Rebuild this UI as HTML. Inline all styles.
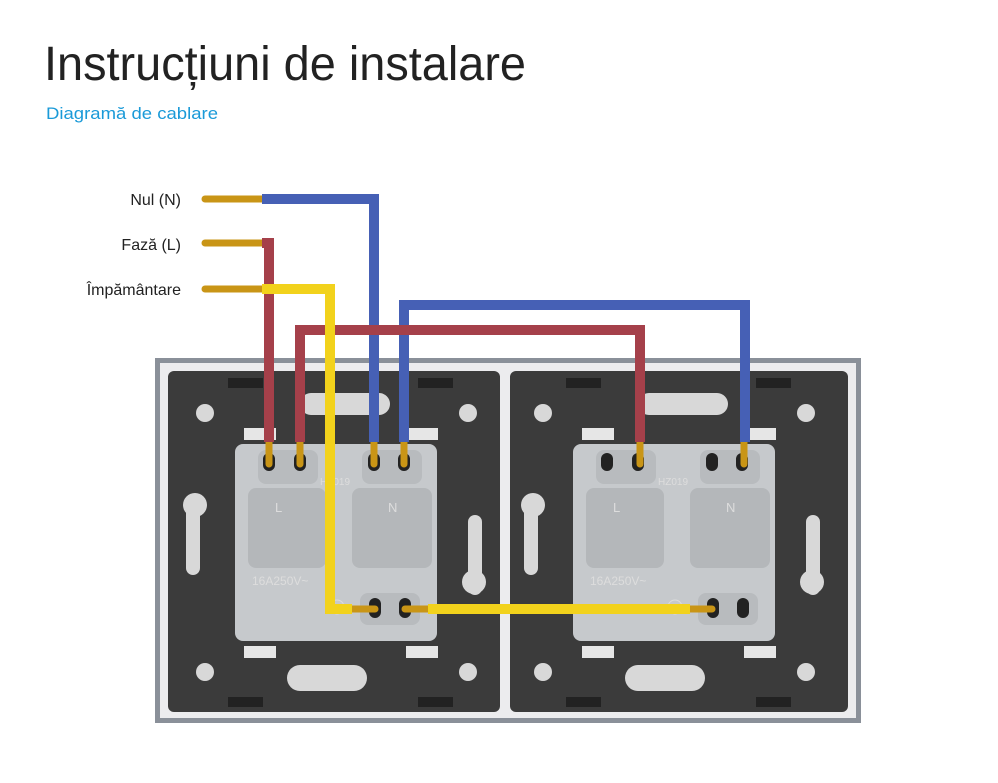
<!DOCTYPE html>
<html><head><meta charset="utf-8"><style>
body{margin:0;background:#fff;width:998px;height:778px;overflow:hidden;font-family:"Liberation Sans",sans-serif}
</style></head><body>
<svg width="998" height="778" viewBox="0 0 998 778" xmlns="http://www.w3.org/2000/svg" font-family="Liberation Sans, sans-serif">
<text x="44" y="80" font-size="48" fill="#222" textLength="482" lengthAdjust="spacingAndGlyphs">Instrucțiuni de instalare</text>
<text x="46" y="119" font-size="17" fill="#1a9ad8" textLength="172" lengthAdjust="spacingAndGlyphs">Diagramă de cablare</text>
<text x="181" y="205" font-size="16" fill="#222" text-anchor="end">Nul (N)</text>
<text x="181" y="250" font-size="16" fill="#222" text-anchor="end">Fază (L)</text>
<text x="181" y="295" font-size="16" fill="#222" text-anchor="end">Împământare</text>
<!-- frame -->
<rect x="155" y="358" width="706" height="365" fill="#8a9099"/>
<rect x="160" y="363" width="696" height="355" fill="#ececee"/>
<rect x="168" y="371" width="332" height="341" rx="6" fill="#3b3b3b"/>
<rect x="510" y="371" width="338" height="341" rx="6" fill="#3b3b3b"/>
<defs>
<g id="plate">
<circle cx="205" cy="413" r="9" fill="#d8d8d8"/>
<circle cx="468" cy="413" r="9" fill="#d8d8d8"/>
<circle cx="205" cy="672" r="9" fill="#d8d8d8"/>
<circle cx="468" cy="672" r="9" fill="#d8d8d8"/>
<rect x="300" y="393" width="90" height="22" rx="11" fill="#d8d8d8"/>
<rect x="287" y="665" width="80" height="26" rx="13" fill="#d8d8d8"/>
<rect x="186" y="495" width="14" height="80" rx="7" fill="#d8d8d8"/>
<circle cx="195" cy="505" r="12" fill="#d8d8d8"/>
<rect x="468" y="515" width="14" height="80" rx="7" fill="#d8d8d8"/>
<circle cx="474" cy="582" r="12" fill="#d8d8d8"/>
<rect x="228" y="378" width="35" height="10" fill="#222"/>
<rect x="418" y="378" width="35" height="10" fill="#222"/>
<rect x="228" y="697" width="35" height="10" fill="#222"/>
<rect x="418" y="697" width="35" height="10" fill="#222"/>
<rect x="244" y="428" width="32" height="12" fill="#e6e6e6"/>
<rect x="406" y="428" width="32" height="12" fill="#e6e6e6"/>
<rect x="244" y="646" width="32" height="12" fill="#e6e6e6"/>
<rect x="406" y="646" width="32" height="12" fill="#e6e6e6"/>
<rect x="235" y="444" width="202" height="197" rx="8" fill="#c6c9cc"/>
<rect x="258" y="450" width="60" height="34" rx="8" fill="#b8bbbe"/>
<rect x="362" y="450" width="60" height="34" rx="8" fill="#b8bbbe"/>
<rect x="248" y="488" width="78" height="80" rx="8" fill="#b4b7ba"/>
<rect x="352" y="488" width="80" height="80" rx="8" fill="#b4b7ba"/>
<text x="275" y="512" font-size="13" fill="#ddd">L</text>
<text x="388" y="512" font-size="13" fill="#ddd">N</text>
<text x="320" y="485" font-size="10" fill="#ddd">HZ019</text>
<text x="252" y="585" font-size="12" fill="#ddd">16A250V~</text>
<rect x="360" y="593" width="60" height="32" rx="8" fill="#b8bbbe"/>
<circle cx="337" cy="607" r="7" fill="none" stroke="#ddd"/>
<rect x="263" y="453" width="12" height="18" rx="6" fill="#222"/>
<rect x="294" y="453" width="12" height="18" rx="6" fill="#222"/>
<rect x="368" y="453" width="12" height="18" rx="6" fill="#222"/>
<rect x="398" y="453" width="12" height="18" rx="6" fill="#222"/>
<rect x="369" y="598" width="12" height="20" rx="6" fill="#222"/>
<rect x="399" y="598" width="12" height="20" rx="6" fill="#222"/>
</g>
</defs>
<use href="#plate"/>
<use href="#plate" transform="translate(338,0)"/>
<!-- stripped ends -->
<g stroke="#c99516" stroke-width="7" stroke-linecap="round">
<line x1="205" y1="199" x2="262" y2="199"/>
<line x1="205" y1="243" x2="262" y2="243"/>
<line x1="205" y1="289" x2="262" y2="289"/>
<line x1="269" y1="440" x2="269" y2="464"/>
<line x1="300" y1="440" x2="300" y2="464"/>
<line x1="374" y1="440" x2="374" y2="464"/>
<line x1="404" y1="440" x2="404" y2="464"/>
<line x1="640" y1="440" x2="640" y2="464"/>
<line x1="744" y1="440" x2="744" y2="464"/>
<line x1="352" y1="609" x2="375" y2="609"/>
<line x1="405" y1="609" x2="428" y2="609"/>
<line x1="690" y1="609" x2="712" y2="609"/>
</g>
<g fill="none" stroke-width="10" stroke-linejoin="miter">
<polyline points="262,199 374,199 374,442" stroke="#4660b5"/>
<polyline points="404,442 404,305 745,305 745,442" stroke="#4660b5"/>
<polyline points="262,243 269,243 269,442" stroke="#a5404a"/>
<polyline points="300,442 300,330 640,330 640,442" stroke="#a5404a"/>
<polyline points="262,289 330,289 330,609 352,609" stroke="#f2d21c"/>
<polyline points="428,609 690,609" stroke="#f2d21c"/>
</g>
</svg>
</body></html>
